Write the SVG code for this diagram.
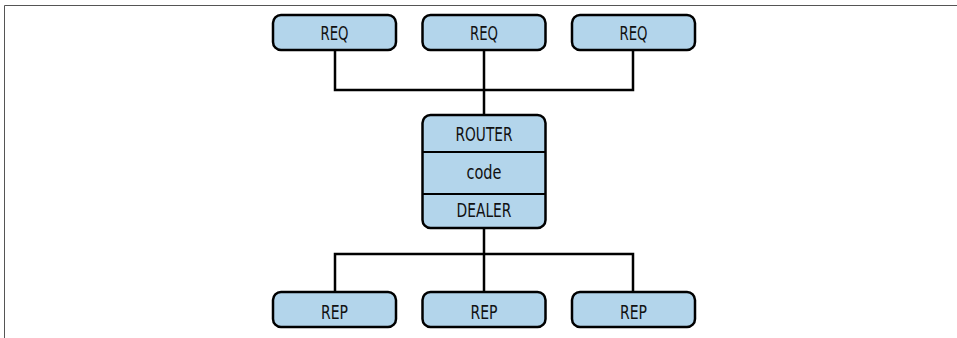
<svg xmlns="http://www.w3.org/2000/svg" width="957" height="338" viewBox="0 0 957 338">
<style>
.box{fill:#b3d5eb;stroke:#000;stroke-width:2.5}
.line{fill:none;stroke:#000;stroke-width:2.5}
.div{stroke:#000;stroke-width:2}
.t{font-family:"DejaVu Sans Condensed","DejaVu Sans",sans-serif;font-stretch:condensed;font-size:20px;fill:#111;text-anchor:middle}
.frame{fill:none;stroke:#555;stroke-width:1}
</style>
<rect width="957" height="338" fill="#fff"/>
<path class="frame" d="M4.5,338 V5.5 H957"/>
<g id="connectors">
<path class="line" d="M335,50 V90 H633 V50 M484,50 V115"/>
<path class="line" d="M484,228 V254 M335,292 V254 H633 V292 M484,254 V292"/>
</g>
<g id="req1"><rect class="box" x="273" y="15" width="123" height="35" rx="8"/><text class="t" x="334.5" y="40" textLength="28" lengthAdjust="spacingAndGlyphs">REQ</text></g>
<g id="req2"><rect class="box" x="422.5" y="15" width="123" height="35" rx="8"/><text class="t" x="484" y="40" textLength="28" lengthAdjust="spacingAndGlyphs">REQ</text></g>
<g id="req3"><rect class="box" x="572" y="15" width="123" height="35" rx="8"/><text class="t" x="633.5" y="40" textLength="28" lengthAdjust="spacingAndGlyphs">REQ</text></g>
<g id="broker">
<rect class="box" x="422.5" y="115" width="123" height="113" rx="8"/>
<line class="div" x1="422.5" y1="152" x2="545.5" y2="152"/>
<line class="div" x1="422.5" y1="194" x2="545.5" y2="194"/>
<text class="t" x="484" y="141" textLength="57" lengthAdjust="spacingAndGlyphs">ROUTER</text>
<text class="t" x="484" y="179" textLength="35" lengthAdjust="spacingAndGlyphs">code</text>
<text class="t" x="484" y="217" textLength="55" lengthAdjust="spacingAndGlyphs">DEALER</text>
</g>
<g id="rep1"><rect class="box" x="273" y="292" width="123" height="35" rx="8"/><text class="t" x="334.5" y="319" textLength="27" lengthAdjust="spacingAndGlyphs">REP</text></g>
<g id="rep2"><rect class="box" x="422.5" y="292" width="123" height="35" rx="8"/><text class="t" x="484" y="319" textLength="27" lengthAdjust="spacingAndGlyphs">REP</text></g>
<g id="rep3"><rect class="box" x="572" y="292" width="123" height="35" rx="8"/><text class="t" x="633.5" y="319" textLength="27" lengthAdjust="spacingAndGlyphs">REP</text></g>
</svg>
